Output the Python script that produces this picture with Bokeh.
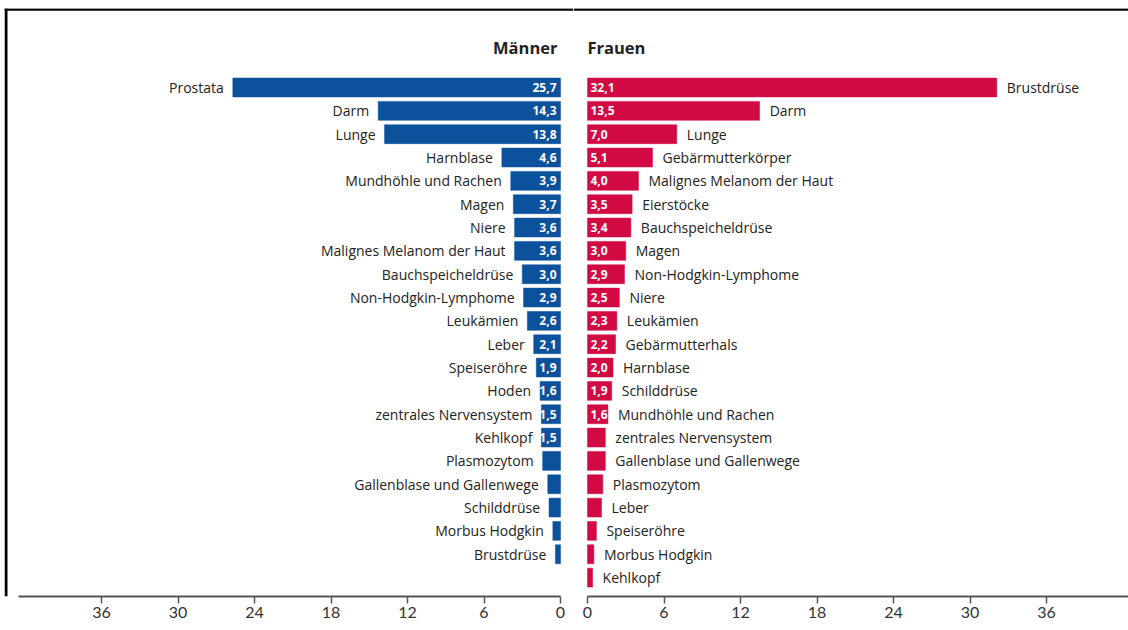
from bokeh.plotting import figure
from bokeh.layouts import row
from bokeh.models import Range1d, FixedTicker, Span, ColumnDataSource
from bokeh.embed import file_html
from bokeh.resources import INLINE
from bokeh.core.properties import value

# ---- data -------------------------------------------------------------
men_labels = ["Prostata", "Darm", "Lunge", "Harnblase", "Mundhöhle und Rachen",
              "Magen", "Niere", "Malignes Melanom der Haut", "Bauchspeicheldrüse",
              "Non-Hodgkin-Lymphome", "Leukämien", "Leber", "Speiseröhre", "Hoden",
              "zentrales Nervensystem", "Kehlkopf", "Plasmozytom",
              "Gallenblase und Gallenwege", "Schilddrüse", "Morbus Hodgkin", "Brustdrüse"]
men_values = [25.7, 14.3, 13.8, 4.6, 3.9, 3.7, 3.6, 3.6, 3.0, 2.9, 2.6, 2.1, 1.9,
              1.6, 1.5, 1.5, 1.4, 1.0, 0.9, 0.6, 0.4]

women_labels = ["Brustdrüse", "Darm", "Lunge", "Gebärmutterkörper",
                "Malignes Melanom der Haut", "Eierstöcke", "Bauchspeicheldrüse", "Magen",
                "Non-Hodgkin-Lymphome", "Niere", "Leukämien", "Gebärmutterhals",
                "Harnblase", "Schilddrüse", "Mundhöhle und Rachen",
                "zentrales Nervensystem", "Gallenblase und Gallenwege", "Plasmozytom",
                "Leber", "Speiseröhre", "Morbus Hodgkin", "Kehlkopf"]
women_values = [32.1, 13.5, 7.0, 5.1, 4.0, 3.5, 3.4, 3.0, 2.9, 2.5, 2.3, 2.2, 2.0,
                1.9, 1.6, 1.4, 1.4, 1.2, 1.1, 0.7, 0.5, 0.4]

axis_ticks = [0, 6, 12, 18, 24, 30, 36]
titles = ["Männer", "Frauen"]

BLUE = "#0b519c"
RED = "#d20a44"
FONT = "Open Sans"

PX = 12.75          # pixels per unit
ROW_TOP = -3.386
ROW_BOTTOM = 21.81
TOP_B = 8
FRAME_H = 588
BOT_B = 34
H = TOP_B + FRAME_H + BOT_B


def fmt(v):
    return f"{v:.1f}".replace(".", ",") if v >= 1.5 else ""


def make_src(labels, vals):
    return ColumnDataSource(dict(
        y=list(range(len(vals))),
        v=vals,
        lab=labels,
        txt=[fmt(v) for v in vals],
    ))


def base_fig(width, xr, left_border):
    p = figure(width=width, height=H, x_range=xr,
               y_range=Range1d(ROW_BOTTOM, ROW_TOP),
               output_backend="svg", toolbar_location=None,
               y_axis_location=None, min_border_left=left_border, min_border_right=0,
               min_border_top=TOP_B, min_border_bottom=BOT_B)
    p.outline_line_color = None
    p.xgrid.visible = False
    p.ygrid.visible = False
    p.background_fill_color = "white"
    p.border_fill_color = "white"
    ax = p.xaxis[0]
    ax.ticker = FixedTicker(ticks=axis_ticks)
    ax.axis_line_color = "#555555"
    ax.axis_line_width = 2
    ax.major_tick_line_color = "#555555"
    ax.major_tick_line_width = 1.5
    ax.major_tick_out = 7
    ax.major_tick_in = 0
    ax.minor_tick_line_color = None
    ax.major_label_text_font = "Lato"
    ax.major_label_text_font_size = "16px"
    ax.major_label_text_color = "#333333"
    ax.major_label_standoff = 3
    # top border
    p.add_layout(Span(location=ROW_TOP + 1.0 / 23.33, dimension="width",
                      line_color="black", line_width=2.5))
    return p


# ---- men (left) --------------------------------------------------------
W1 = 573
LB = 4
zero1 = 560 - LB
men_range = Range1d(zero1 / PX, -(W1 - LB - zero1) / PX)
pm = base_fig(W1, men_range, LB)
pm.xaxis[0].bounds = (0, 42.5)
sm = make_src(men_labels, men_values)
pm.hbar(y="y", left=0, right="v", height=0.81, source=sm,
        fill_color=BLUE, line_color=BLUE, line_width=0.5)
pm.text(x="v", y="y", text="lab", source=sm, text_align="right",
        text_baseline="middle", x_offset=-9, text_font=value(FONT),
        text_font_size="14px", text_color="#222222")
pm.text(x=0, y="y", text="txt", source=sm, text_align="right",
        text_baseline="middle", x_offset=-4, text_font=value(FONT),
        text_font_style="bold", text_font_size="12px", text_color="white")
pm.text(x=[0], y=[-1.71], text=[titles[0]], text_align="right",
        text_baseline="middle", x_offset=-3, text_font=value(FONT),
        text_font_style="bold", text_font_size="16.5px", text_color="#222222")
pm.add_layout(Span(location=zero1 / PX - 1.5 / PX, dimension="height",
                   line_color="black", line_width=3))

# ---- women (right) -----------------------------------------------------
W2 = 1128 - W1
zero2 = 587 - W1
women_range = Range1d(-zero2 / PX, (W2 - zero2) / PX)
pw = base_fig(W2, women_range, 0)
pw.xaxis[0].bounds = (0, 45)
sw = make_src(women_labels, women_values)
pw.hbar(y="y", left=0, right="v", height=0.81, source=sw,
        fill_color=RED, line_color=RED, line_width=0.5)
pw.text(x="v", y="y", text="lab", source=sw, text_align="left",
        text_baseline="middle", x_offset=10, text_font=value(FONT),
        text_font_size="14px", text_color="#222222")
pw.text(x=0, y="y", text="txt", source=sw, text_align="left",
        text_baseline="middle", x_offset=3, text_font=value(FONT),
        text_font_style="bold", text_font_size="12px", text_color="white")
pw.text(x=[0], y=[-1.71], text=[titles[1]], text_align="left",
        text_baseline="middle", x_offset=0, text_font=value(FONT),
        text_font_style="bold", text_font_size="16.5px", text_color="#222222")

layout = row(pm, pw)
open("out.html", "w").write(file_html(layout, INLINE))
